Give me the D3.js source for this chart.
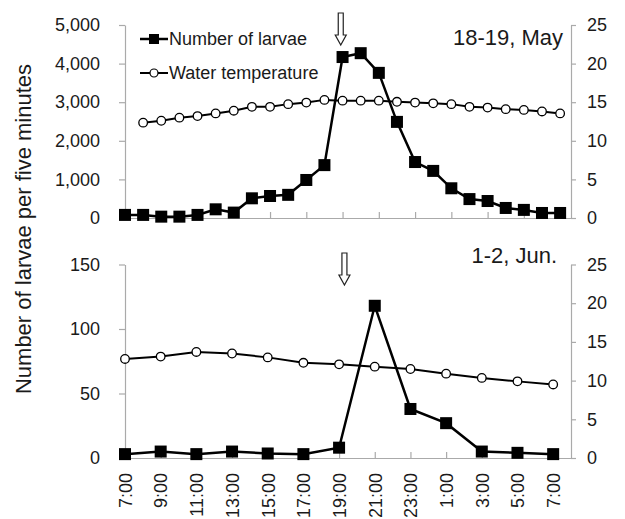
<!DOCTYPE html>
<html>
<head>
<meta charset="utf-8">
<script src="https://cdn.jsdelivr.net/npm/d3@7/dist/d3.min.js"></script>
<style>
  body { margin: 0; background: #fff; }
  svg { font-family: Arial, "Liberation Sans", sans-serif; }
  .axis path, .axis line { stroke: #aaa; stroke-width: 1.2; }
  .axis text { fill: #1a1a1a; font-size: 18px; }
</style>
</head>
<body>
<svg width="625" height="519"></svg>
<script>
// data
const timesTop = ["7:00","8:00","9:00","10:00","11:00","12:00","13:00","14:00","15:00","16:00","17:00","18:00",
  "19:00","20:00","21:00","22:00","23:00","0:00","1:00","2:00","3:00","4:00","5:00","6:00","7:00"]
const larvaeTop = [80, 80, 35, 35, 80, 225, 140, 510, 570, 600, 985, 1370,
  4170, 4270, 3760, 2490, 1450, 1220, 770, 490, 440, 260, 210, 130, 130]
const tempTop = [null, 12.35, 12.6, 13.0, 13.2, 13.55, 13.9, 14.4, 14.4, 14.75, 14.95, 15.3,
  15.2, 15.2, 15.2, 15.05, 14.95, 14.85, 14.75, 14.4, 14.3, 14.1, 14.0, 13.8, 13.55]

const timesBottom = ["7:00","9:00","11:00","13:00","15:00","17:00","19:00","21:00","23:00","1:00","3:00","5:00","7:00"]
const larvaeBottom = [3, 5, 3, 5, 3.5, 3, 8, 118, 38, 27, 5, 4, 3]
const tempBottom = [12.8, 13.1, 13.7, 13.5, 13.0, 12.3, 12.1, 11.8, 11.5, 10.9, 10.35, 9.9, 9.5]

const larvaeTicksTop = [0, 1000, 2000, 3000, 4000, 5000]
const larvaeTicksBottom = [0, 50, 100, 150]
const tempTicks = [0, 5, 10, 15, 20, 25]

// arrow position, in category index
const arrowTop = 11.9
const arrowBottom = 6.15

const $svg = d3.select('svg')
const LEFT = 125, RIGHT = 571

const panels = [
  { title: '18-19, May', titleX: 563, titleY: 45, times: timesTop, larvae: larvaeTop, temp: tempTop,
    yTop: 25, yBottom: 218, larvaeMax: 5000, larvaeTicks: larvaeTicksTop, xMax: 24.6,
    xTicks: d3.range(0, 25, 2), labels: false, arrow: arrowTop, arrowY: 13, legend: true },
  { title: '1-2, Jun.', titleX: 557, titleY: 263, times: timesBottom, larvae: larvaeBottom, temp: tempBottom,
    yTop: 264.5, yBottom: 458, larvaeMax: 150, larvaeTicks: larvaeTicksBottom, xMax: 12.5,
    xTicks: d3.range(0, 13), labels: true, arrow: arrowBottom, arrowY: 253, legend: false }
]

function drawPanel(p) {
  const g = $svg.append('g')

  const x = d3.scaleLinear().domain([0, p.xMax]).range([LEFT, RIGHT])
  const yL = d3.scaleLinear().domain([0, p.larvaeMax]).range([p.yBottom, p.yTop])
  const yR = d3.scaleLinear().domain([0, 25]).range([p.yBottom, p.yTop])

  // axes
  g.append('g')
    .attr('class', 'axis')
    .attr('transform', `translate(${LEFT},0)`)
    .call(d3.axisLeft(yL).tickValues(p.larvaeTicks).tickSizeInner(6).tickSizeOuter(0)
      .tickPadding(19).tickFormat(d3.format(',')))

  g.append('g')
    .attr('class', 'axis')
    .attr('transform', `translate(${RIGHT},0)`)
    .call(d3.axisRight(yR).tickValues(tempTicks).tickSizeInner(5).tickSizeOuter(0).tickPadding(11))

  const xAxis = g.append('g')
    .attr('class', 'axis x-axis')
    .attr('transform', `translate(0,${p.yBottom})`)
    .call(d3.axisBottom(x).tickValues(p.xTicks).tickSizeInner(-6).tickSizeOuter(0)
      .tickFormat(i => p.labels ? p.times[i] : ''))

  xAxis.selectAll('text')
    .attr('transform', 'rotate(-90)')
    .attr('x', -15)
    .attr('y', 0)
    .attr('dy', '0.35em')
    .attr('text-anchor', 'end')

  const larvaeData = p.larvae.map((v, i) => ({ i, v }))
  const tempData = p.temp.map((v, i) => ({ i, v })).filter(d => d.v != null)

  // larvae
  g.append('path')
    .datum(larvaeData)
    .attr('fill', 'none')
    .attr('stroke', '#000')
    .attr('stroke-width', 2.5)
    .attr('d', d3.line().x(d => x(d.i)).y(d => yL(d.v)))

  g.selectAll('.sq')
    .data(larvaeData)
    .enter()
    .append('rect')
    .attr('class', 'sq')
    .attr('x', d => x(d.i) - 6)
    .attr('y', d => yL(d.v) - 6)
    .attr('width', 12)
    .attr('height', 12)
    .attr('fill', '#000')

  // water temperature
  g.append('path')
    .datum(tempData)
    .attr('fill', 'none')
    .attr('stroke', '#000')
    .attr('stroke-width', 2)
    .attr('d', d3.line().x(d => x(d.i)).y(d => yR(d.v)))

  g.selectAll('.dot')
    .data(tempData)
    .enter()
    .append('circle')
    .attr('class', 'dot')
    .attr('cx', d => x(d.i))
    .attr('cy', d => yR(d.v))
    .attr('r', 4.3)
    .attr('fill', '#fff')
    .attr('stroke', '#000')
    .attr('stroke-width', 1.3)

  // hollow down arrow
  const ax = x(p.arrow), ay = p.arrowY
  g.append('path')
    .attr('d', `M${ax - 2.5},${ay} L${ax + 2.5},${ay} L${ax + 2.5},${ay + 22} L${ax + 5.5},${ay + 22}
      L${ax},${ay + 32} L${ax - 5.5},${ay + 22} L${ax - 2.5},${ay + 22} Z`)
    .attr('fill', '#fff')
    .attr('stroke', '#222')
    .attr('stroke-width', 1.2)

  g.append('text')
    .attr('x', p.titleX)
    .attr('y', p.titleY)
    .attr('text-anchor', 'end')
    .attr('font-size', 22)
    .attr('fill', '#1a1a1a')
    .text(p.title)

  if (p.legend) {
    const $legend = g.append('g')
    const rows = [{ label: 'Number of larvae', y: 39, square: true },
      { label: 'Water temperature', y: 73, square: false }]
    rows.forEach(r => {
      $legend.append('line')
        .attr('x1', 140).attr('x2', 168)
        .attr('y1', r.y).attr('y2', r.y)
        .attr('stroke', '#000')
        .attr('stroke-width', r.square ? 2.5 : 2)
      if (r.square) {
        $legend.append('rect')
          .attr('x', 149).attr('y', r.y - 5)
          .attr('width', 10).attr('height', 10)
          .attr('fill', '#000')
      } else {
        $legend.append('circle')
          .attr('cx', 154).attr('cy', r.y).attr('r', 4)
          .attr('fill', '#fff').attr('stroke', '#000').attr('stroke-width', 1.2)
      }
      $legend.append('text')
        .attr('x', 169)
        .attr('y', r.y)
        .attr('dy', '0.35em')
        .attr('font-size', 18)
        .attr('fill', '#1a1a1a')
        .text(r.label)
    })
  }
}

panels.forEach(drawPanel)

$svg.append('text')
  .attr('transform', 'translate(23,229) rotate(-90)')
  .attr('text-anchor', 'middle')
  .attr('dy', '0.35em')
  .attr('font-size', 22)
  .attr('fill', '#1a1a1a')
  .text('Number of larvae per five minutes')
</script>
</body>
</html>
